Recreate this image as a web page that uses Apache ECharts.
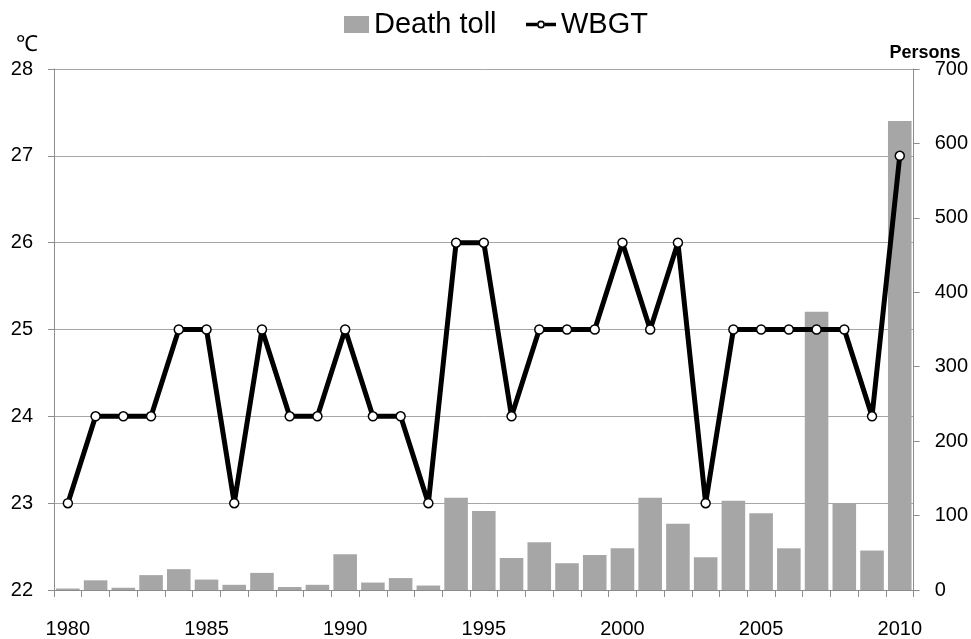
<!DOCTYPE html>
<html><head><meta charset="utf-8">
<script src="https://cdn.jsdelivr.net/npm/echarts@6/dist/echarts.min.js"></script>
<style>html,body{margin:0;padding:0;background:#fff}#c{width:971px;height:639px}</style>
</head><body><div id="c"></div>
<script>
const years = ['1980','1981','1982','1983','1984','1985','1986','1987','1988','1989','1990','1991','1992','1993','1994','1995','1996','1997','1998','1999','2000','2001','2002','2003','2004','2005','2006','2007','2008','2009','2010'];
const deathToll = [2,13,3,20,28,14,7,23,4,7,48,10,16,6,124,106,43,64,36,47,56,124,89,44,120,103,56,374,116,53,630];
const wbgt = [23,24,24,24,25,25,23,25,24,24,25,24,24,23,26,26,24,25,25,25,26,25,26,23,25,25,25,25,25,24,27];
const leftTicks = {min:22,max:28,step:1};
const rightTicks = {min:0,max:700,step:100};
const FONT = '"Liberation Sans",Arial,sans-serif';
const WBGT_ICON = 'path://M0 2.2H11V5.8H0Z M19 2.2H30V5.8H19Z M19 4A4 4 0 1 0 11 4A4 4 0 1 0 19 4Z M17.3 4A2.3 2.3 0 1 1 12.7 4A2.3 2.3 0 1 1 17.3 4Z';
const chart = echarts.init(document.getElementById('c'));
chart.setOption({
  animation:false,
  textStyle:{fontFamily:FONT},
  legend:[
    {left:344,top:10,padding:0,itemWidth:25,itemHeight:17,
      textStyle:{fontSize:29,color:'#000',fontFamily:FONT},
      data:[{name:'Death toll',icon:'rect',itemStyle:{color:'#a6a6a6'}}]},
    {left:526,top:10,padding:0,itemWidth:30,itemHeight:8,
      textStyle:{fontSize:29,color:'#000',fontFamily:FONT},
      data:[{name:'WBGT',icon:WBGT_ICON,itemStyle:{color:'#000',borderWidth:0}}]}
  ],
  graphic:[
    {type:'text',x:27,y:45,style:{text:'℃',fontSize:22,fill:'#000',align:'center',verticalAlign:'middle',fontFamily:FONT}},
    {type:'text',x:925,y:53,style:{text:'Persons',fontSize:18,fontWeight:'bold',fill:'#000',align:'center',verticalAlign:'middle',fontFamily:FONT}}
  ],
  grid:{left:54,right:56,top:69,bottom:45},
  xAxis:{type:'category',data:years,boundaryGap:true,
    axisLine:{lineStyle:{color:'#8c8c8c',width:1}},
    axisTick:{show:true,interval:0,length:7,lineStyle:{color:'#8c8c8c'}},
    axisLabel:{interval:4,color:'#000',fontSize:20,margin:29,fontFamily:FONT}},
  yAxis:[
    {type:'value',min:leftTicks.min,max:leftTicks.max,interval:leftTicks.step,
      axisLine:{show:true,lineStyle:{color:'#8c8c8c'}},
      axisTick:{show:true,length:6,lineStyle:{color:'#8c8c8c'}},
      axisLabel:{color:'#000',fontSize:20,margin:21,fontFamily:FONT},
      splitLine:{show:true,lineStyle:{color:'#a6a6a6',width:1}}},
    {type:'value',min:rightTicks.min,max:rightTicks.max,interval:rightTicks.step,
      axisLine:{show:true,lineStyle:{color:'#8c8c8c'}},
      axisTick:{show:true,length:6,lineStyle:{color:'#8c8c8c'}},
      axisLabel:{color:'#000',fontSize:20,margin:21,fontFamily:FONT},
      splitLine:{show:false}}
  ],
  series:[
    {name:'Death toll',type:'bar',yAxisIndex:1,data:deathToll,barCategoryGap:'15%',
      itemStyle:{color:'#a6a6a6'}},
    {name:'WBGT',type:'line',yAxisIndex:0,data:wbgt,symbol:'circle',symbolSize:9,
      lineStyle:{color:'#000',width:5},
      itemStyle:{color:'#fff',borderColor:'#000',borderWidth:1.5}}
  ]
});
</script></body></html>
